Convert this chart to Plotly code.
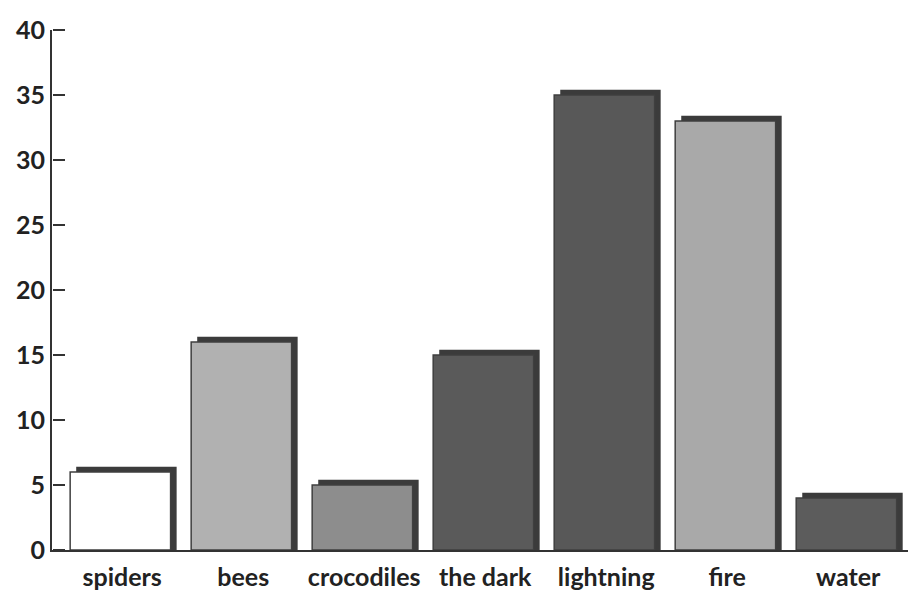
import plotly.graph_objects as go

categories = ["spiders", "bees", "crocodiles", "the dark", "lightning", "fire", "water"]
values = [6, 16, 5, 15, 35, 33, 4]
bar_colors = ["#ffffff", "#b1b1b1", "#8d8d8d", "#5a5a5a", "#585858", "#a9a9a9", "#5c5c5c"]
y_ticks = [0, 5, 10, 15, 20, 25, 30, 35, 40]

shadow_lift = 0.4
shadow_values = [v + shadow_lift for v in values]

fig = go.Figure()
# dark "3D" shadow behind each bar
fig.add_trace(go.Bar(
    x=categories, y=shadow_values,
    offset=-0.38, width=0.83,
    marker=dict(color="#3b3b3b", line=dict(width=0)),
    hoverinfo="skip", showlegend=False,
))
# front faces (on overlaid axis whose outside ticks point right, into the plot)
fig.add_trace(go.Bar(
    x=categories, y=values, yaxis="y2",
    offset=-0.43, width=0.83,
    marker=dict(color=bar_colors, line=dict(color="#3f3f3f", width=1.5)),
    showlegend=False,
))

fig.update_layout(
    barmode="overlay",
    width=908, height=585,
    margin=dict(l=44, r=0, t=22, b=43),
    paper_bgcolor="white", plot_bgcolor="white",
    font=dict(family="Lato, 'Open Sans', sans-serif", color="#222"),
    xaxis=dict(
        type="category", range=[-0.58, 6.56],
        showline=True, linecolor="#333", linewidth=2,
        ticks="", showgrid=False, zeroline=False,
        tickfont=dict(size=25, weight="bold", color="#222"),
        ticklabelstandoff=4, automargin=False,
    ),
    yaxis=dict(
        range=[0, 40], tickmode="array", tickvals=y_ticks,
        showline=True, linecolor="#333", linewidth=2,
        ticks="", showgrid=False, zeroline=False,
        tickfont=dict(size=25, weight="bold", color="#222"),
        automargin=False,
    ),
    yaxis2=dict(
        range=[0, 40], tickmode="array", tickvals=y_ticks,
        overlaying="y", side="right", anchor="free", position=0,
        showline=False, showticklabels=False,
        ticks="outside", ticklen=12, tickwidth=2, tickcolor="#333",
        showgrid=False, zeroline=False, automargin=False,
    ),
)

fig.write_html("out.html")
